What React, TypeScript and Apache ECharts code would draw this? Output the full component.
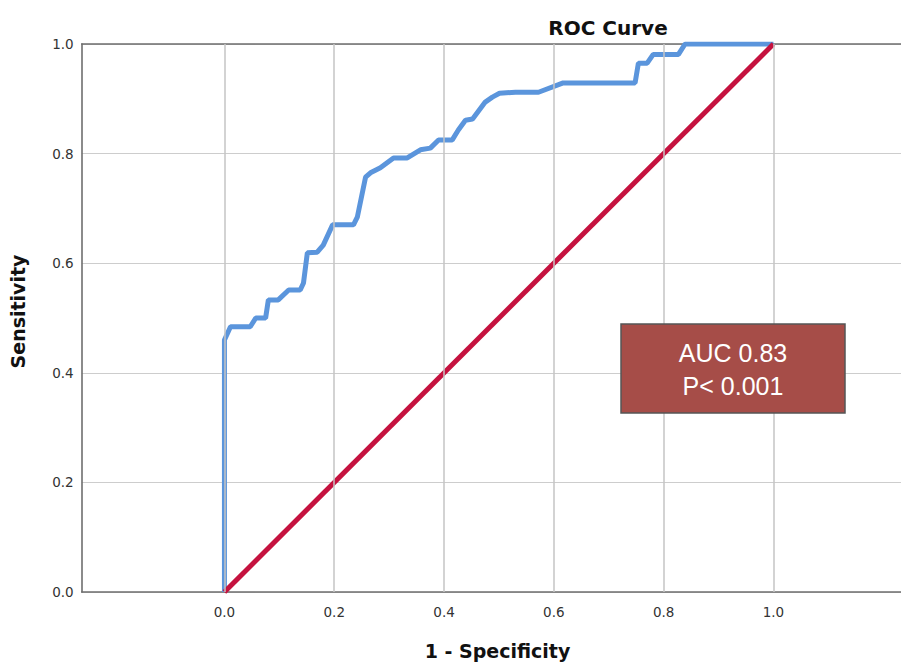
import React, { useEffect, useRef } from "react";
import * as echarts from "echarts";

const fpr = [0, 0, 0.011, 0.047, 0.057, 0.075, 0.08, 0.098, 0.117, 0.138, 0.144, 0.151, 0.169, 0.18, 0.197, 0.235, 0.242, 0.257, 0.266, 0.284, 0.308, 0.333, 0.357, 0.375, 0.39, 0.415, 0.426, 0.439, 0.452, 0.475, 0.488, 0.501, 0.53, 0.572, 0.617, 0.748, 0.754, 0.77, 0.781, 0.827, 0.839, 1];
const tpr = [0, 0.46, 0.484, 0.484, 0.5, 0.5, 0.533, 0.533, 0.551, 0.551, 0.564, 0.619, 0.62, 0.633, 0.67, 0.67, 0.684, 0.757, 0.765, 0.774, 0.792, 0.792, 0.807, 0.81, 0.825, 0.825, 0.843, 0.861, 0.863, 0.894, 0.903, 0.91, 0.912, 0.912, 0.929, 0.929, 0.965, 0.965, 0.981, 0.981, 1, 1];
const refX = [0, 1];
const refY = [0, 1];
const xTicks = [0, 0.2, 0.4, 0.6, 0.8, 1.0];
const annotation = ["AUC 0.83", "P< 0.001"];

const frameLine = { show: true, onZero: false, lineStyle: { color: "#6e6e6e", width: 1.6 } };

export default function App() {
  const ref = useRef<HTMLDivElement>(null);
  useEffect(() => {
    if (!ref.current) return;
    const chart = echarts.init(ref.current, null, { renderer: "svg" });
    chart.setOption({
      animation: false,
      backgroundColor: "#ffffff",
      title: {
        text: "ROC Curve",
        left: 603,
        top: 13,
        textAlign: "center",
        textStyle: { fontFamily: "DejaVu Sans", fontWeight: "bold", fontSize: 20, color: "#111" },
      },
      grid: {
        left: 81.7,
        top: 44,
        width: 834.5,
        height: 548,
        show: false,
      },
      xAxis: [
        {
          type: "value",
          min: -0.26,
          max: 1.26,
          name: "1 - Specificity",
          nameLocation: "middle",
          nameGap: 49,
          nameTextStyle: { fontFamily: "DejaVu Sans", fontWeight: "bold", fontSize: 19, color: "#111", padding: [0, 3, 0, 0] },
          axisLine: frameLine,
          axisTick: { show: false },
          splitLine: { show: false },
          axisLabel: {
            customValues: xTicks,
            formatter: (v: number) => v.toFixed(1),
            margin: 13,
            fontFamily: "DejaVu Sans",
            fontSize: 13.5,
            color: "#333",
          },
        },
        {
          type: "value",
          position: "top",
          min: -0.26,
          max: 1.26,
          axisLine: frameLine,
          axisTick: { show: false },
          splitLine: { show: false },
          axisLabel: { show: false },
        },
      ],
      yAxis: {
        type: "value",
        min: 0,
        max: 1,
        interval: 0.2,
        name: "Sensitivity",
        nameLocation: "middle",
        nameGap: 54,
        nameTextStyle: { fontFamily: "DejaVu Sans", fontWeight: "bold", fontSize: 19, color: "#111", padding: [0, 0, 0, 13] },
        axisLine: frameLine,
        axisTick: { show: false },
        splitLine: { show: true, lineStyle: { color: "#cdcdcd", width: 1.2 } },
        axisLabel: {
          formatter: (v: number) => v.toFixed(1),
          margin: 8,
          fontFamily: "DejaVu Sans",
          fontSize: 13.5,
          color: "#333",
        },
      },
      series: [
        {
          type: "line",
          data: [],
          silent: true,
          markLine: {
            silent: true,
            symbol: "none",
            label: { show: false },
            lineStyle: { color: "#c4c4c4", width: 1.5, type: "solid" },
            data: xTicks.map((v) => ({ xAxis: v })),
          },
        },
        {
          type: "line",
          data: fpr.map((x, i) => [x, tpr[i]]),
          showSymbol: false,
          lineStyle: { color: "#5b95dc", width: 5 },
          z: 3,
        },
        {
          type: "line",
          data: refX.map((x, i) => [x, refY[i]]),
          showSymbol: false,
          lineStyle: { color: "#c5123f", width: 5 },
          z: 4,
        },
      ],
      graphic: [
        {
          type: "rect",
          shape: { x: 621, y: 324, width: 224, height: 89 },
          style: { fill: "#a64d48", stroke: "#555", lineWidth: 1.5 },
          z: 10,
        },
        {
          type: "text",
          x: 733,
          y: 353,
          style: {
            text: annotation[0],
            fill: "#ffffff",
            font: "25px 'Liberation Sans'",
            align: "center",
            verticalAlign: "middle",
          },
          z: 11,
        },
        {
          type: "text",
          x: 733,
          y: 386,
          style: {
            text: annotation[1],
            fill: "#ffffff",
            font: "25px 'Liberation Sans'",
            align: "center",
            verticalAlign: "middle",
          },
          z: 11,
        },
      ],
    });
    return () => chart.dispose();
  }, []);
  return (
    <div style={{ position: "absolute", left: 0, top: 0, width: 901, height: 666, overflow: "hidden" }}>
      <div ref={ref} style={{ width: 1000, height: 666 }} />
    </div>
  );
}
